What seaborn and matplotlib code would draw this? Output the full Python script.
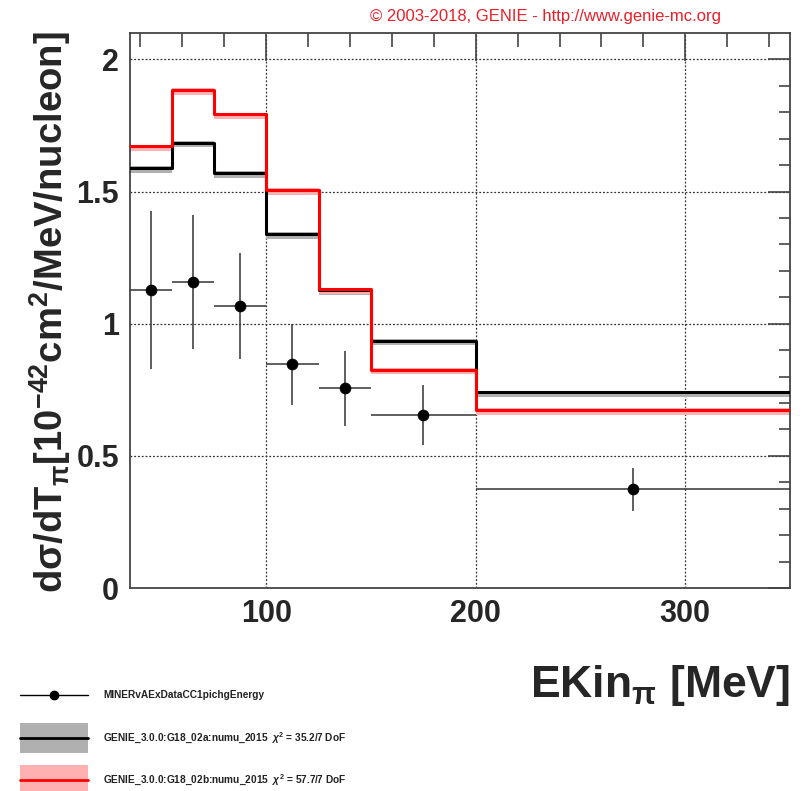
import numpy as np
import pandas as pd
import matplotlib
matplotlib.use("Agg")
import matplotlib.pyplot as plt
import seaborn as sns
from matplotlib.patches import Rectangle

# ---- data ----
bin_edges = [35, 55, 75, 100, 125, 150, 200, 350]
genie_a = [1.59, 1.685, 1.571, 1.340, 1.128, 0.936, 0.740]
genie_b = [1.672, 1.885, 1.792, 1.506, 1.131, 0.826, 0.674]
data_x = [45, 65, 87.5, 112.5, 137.5, 175, 275]
data_y = [1.127, 1.157, 1.067, 0.846, 0.755, 0.654, 0.374]
data_err = [0.30, 0.254, 0.20, 0.153, 0.142, 0.113, 0.081]
xticks = [100, 200, 300]
yticks = [0, 0.5, 1, 1.5, 2]
ytick_labels = ["0", "0.5", "1", "1.5", "2"]
legend_labels = [
    "MINERvAExDataCC1pichgEnergy",
    r"GENIE_3.0.0:G18_02a:numu_2015  $\chi^{2}$ = 35.2/7 DoF",
    r"GENIE_3.0.0:G18_02b:numu_2015  $\chi^{2}$ = 57.7/7 DoF",
]

sns.set_style("white")
plt.rcParams['font.family'] = ['Liberation Sans', 'DejaVu Sans']
plt.rcParams['mathtext.fontset'] = 'custom'
plt.rcParams['mathtext.rm'] = 'Liberation Sans:bold'
plt.rcParams['mathtext.it'] = 'Liberation Sans:italic:bold'
plt.rcParams['mathtext.bf'] = 'Liberation Sans:bold'

W, H = 811, 791
fig = plt.figure(figsize=(W / 100, H / 100), dpi=100)
L, R, T, B = 130, 790, 33, 588
ax = fig.add_axes([L / W, 1 - B / H, (R - L) / W, (B - T) / H])

edges = np.array(bin_edges, dtype=float)
lo_x = edges[:-1]
xs = np.append(lo_x, edges[-1])

def step_df(vals):
    v = np.append(vals, vals[-1])
    return pd.DataFrame({"x": xs, "y": v})

# bands
for vals, col in [(genie_a, "#b0b0b0"), (genie_b, "#ffb0b0")]:
    d = step_df(vals)
    ax.fill_between(d["x"], d["y"] - 0.018, d["y"] + 0.006, step="post",
                    color=col, lw=0, zorder=2)

sns.lineplot(data=step_df(genie_a), x="x", y="y", drawstyle="steps-post",
             color="black", lw=2.2, ax=ax, zorder=3, estimator=None, sort=False)
sns.lineplot(data=step_df(genie_b), x="x", y="y", drawstyle="steps-post",
             color="#ff0000", lw=2.2, ax=ax, zorder=4, estimator=None, sort=False)

xerr_lo = np.array(data_x) - lo_x
xerr_hi = edges[1:] - np.array(data_x)
ax.errorbar(data_x, data_y, yerr=data_err, xerr=[xerr_lo, xerr_hi], fmt="none",
            ecolor="#333333", elinewidth=1.1, capsize=0, zorder=5)
sns.scatterplot(x=data_x, y=data_y, color="black", s=60, edgecolor="black",
                ax=ax, zorder=6, legend=False)

ax.set_xlim(35, 350)
ax.set_ylim(0, 2.1)
ax.set_xticks(xticks)
ax.set_yticks(yticks)
ax.set_xticklabels([str(t) for t in xticks], fontsize=22, fontweight="bold")
ax.set_yticklabels(ytick_labels, fontsize=22, fontweight="bold")
ax.set_xticks(np.arange(40, 350, 20), minor=True)
ax.set_yticks(np.arange(0, 2.1, 0.1), minor=True)
ax.tick_params(which="major", direction="in", length=20, width=1.2,
               top=True, right=True, color="#444444", pad=8)
ax.tick_params(which="minor", direction="in", length=10, width=1.2,
               top=True, right=True, color="#444444")
ax.tick_params(axis="y", which="major", length=16)
ax.tick_params(axis="y", which="minor", length=8)
ax.grid(True, which="major", linestyle=(0, (1.5, 1.5)), color="#333333", lw=0.9)
for s in ax.spines.values():
    s.set_color("#444444")
    s.set_linewidth(1.3)
ax.set_xlabel("")
ax.set_ylabel("")

fig.text(50 / W, 1 - 312 / H,
         r"dσ/dT$_{\mathrm{π}}$[10$^{-42}$cm$^{2}$/MeV/nucleon]",
         rotation=90, ha="center", va="center", fontsize=27.5, fontweight="bold")
fig.text(790 / W, 1 - 686 / H, r"EKin$_{\mathrm{π}}$ [MeV]", ha="right", va="center",
         fontsize=32, fontweight="bold")
fig.text(545 / W, 1 - 16 / H, "© 2003-2018, GENIE - http://www.genie-mc.org",
         ha="center", va="center", fontsize=12, color="#e8202a")

# legend (manual, in pixel-like figure coords)
lax = fig.add_axes([0, 0, 1, 1], zorder=-1)
lax.set_xlim(0, W)
lax.set_ylim(H, 0)
lax.axis("off")
rows = [695, 738, 780]
lax.plot([20, 88], [rows[0], rows[0]], color="black", lw=1)
lax.plot([54], [rows[0]], "o", color="black", ms=6)
lax.add_patch(Rectangle((20, rows[1] - 15), 68, 30, color="#b0b0b0", lw=0))
lax.plot([20, 88], [rows[1], rows[1]], color="black", lw=2)
lax.add_patch(Rectangle((20, rows[2] - 15), 68, 30, color="#ffb0b0", lw=0))
lax.plot([20, 88], [rows[2], rows[2]], color="#ff0000", lw=2)
for y, lab in zip(rows, legend_labels):
    lax.text(103, y, lab, ha="left", va="center", fontsize=7.3, fontweight="bold",
             color="#222222")

fig.savefig("out.png", dpi=100, facecolor="white")
